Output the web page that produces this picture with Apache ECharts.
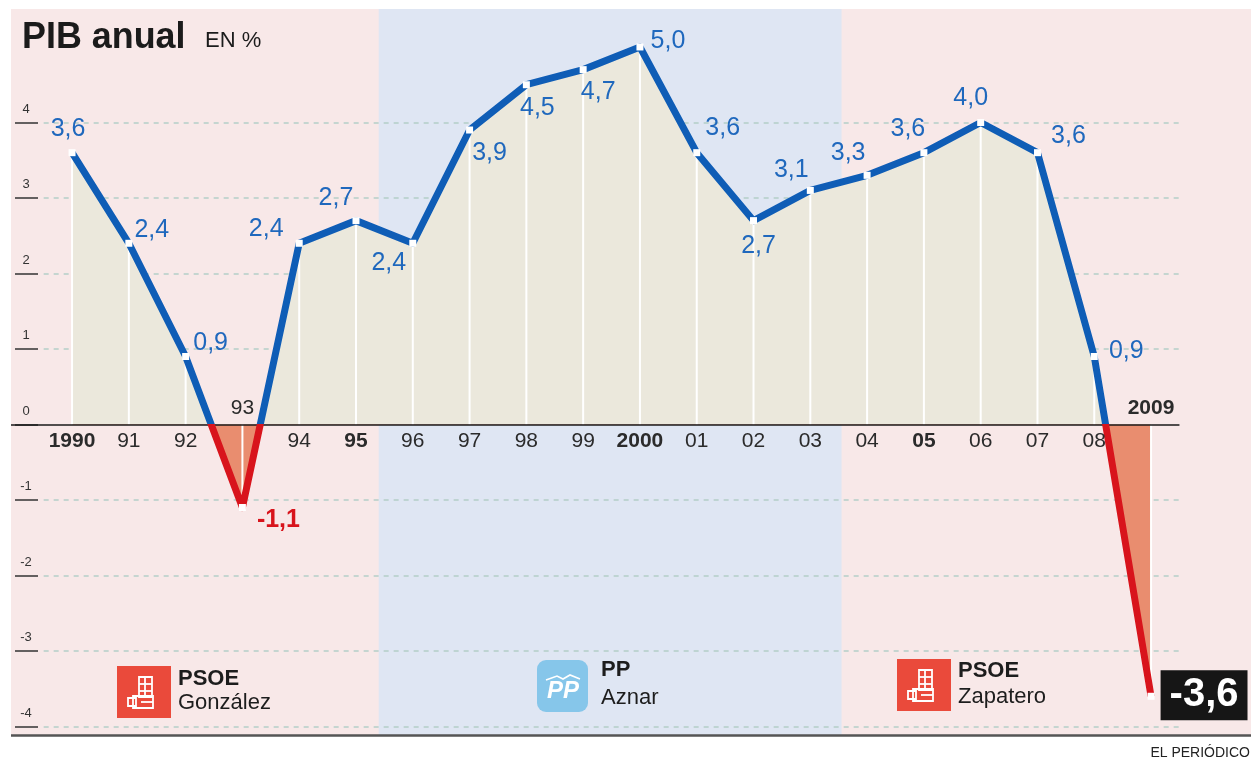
<!DOCTYPE html>
<html>
<head>
<meta charset="utf-8">
<title>PIB anual</title>
<script src="https://cdn.jsdelivr.net/npm/echarts@6/dist/echarts.min.js"></script>
<style>
  html, body { margin: 0; padding: 0; background: #fff; }
  #pib-chart { width: 1253px; height: 762px; }
</style>
</head>
<body>
<div id="pib-chart"></div>
<script>
// --- datos ---
const years = [1990, 1991, 1992, 1993, 1994, 1995, 1996, 1997, 1998, 1999,
               2000, 2001, 2002, 2003, 2004, 2005, 2006, 2007, 2008, 2009];
const yearLabels = ['1990', '91', '92', '93', '94', '95', '96', '97', '98', '99',
                    '2000', '01', '02', '03', '04', '05', '06', '07', '08', '2009'];
const pib = [3.6, 2.4, 0.9, -1.1, 2.4, 2.7, 2.4, 3.9, 4.5, 4.7,
             5.0, 3.6, 2.7, 3.1, 3.3, 3.6, 4.0, 3.6, 0.9, -3.6];
const boldYears = [1990, 1995, 2000, 2005, 2009];
const aboveAxisYears = [1993, 2009];   // rótulos que van encima del eje
const yTicks = [-4, -3, -2, -1, 0, 1, 2, 3, 4];
const ppTerm = [1995.4, 2003.55];      // legislaturas de Aznar (franja azul)

// desplazamiento de cada etiqueta respecto a su punto (solo estilo)
const labelOffset = [[-4, -24], [23, -13], [25, -13], [36, 13], [-33, -14], [-20, -23],
                     [-24, 20], [20, 23], [11, 23], [15, 22], [28, -6], [26, -25],
                     [5, 25], [-19, -20], [-19, -22], [-16, -24], [-10, -24], [31, -17],
                     [32, -5], [53, -1]];

const FONT = '"Liberation Sans", Arial, sans-serif';
const BLUE = '#0f5db6', RED = '#d8141c', LABEL_BLUE = '#1f68bd';
const X_MIN = 1988.925, X_MAX = 2010.76, Y_MIN = -4.113, Y_MAX = 5.503;

const pts = years.map((y, i) => [y, pib[i]]);
const fmt = v => v.toFixed(1).replace('.', ',');

// etiquetas de valor
const pointData = pts.map((p, i) => {
  const last = i === pts.length - 1;
  let label = { offset: labelOffset[i] };
  if (last) {
    label = Object.assign(label, {
      color: '#fff', backgroundColor: '#161616', fontSize: 40, fontWeight: 'bold',
      padding: [5, 9, 3, 9], lineHeight: 42
    });
  } else if (p[1] < 0) {
    label = Object.assign(label, { color: RED, fontWeight: 'bold' });
  }
  return { value: p, label: label };
});

// rótulos de los años sobre el eje 0
const yearData = years.map((y, i) => ({
  value: [y, 0],
  label: {
    position: aboveAxisYears.indexOf(y) >= 0 ? 'top' : 'bottom',
    fontWeight: boldYears.indexOf(y) >= 0 ? 'bold' : 'normal'
  }
}));

const gridLines = yTicks.filter(t => t !== 0).map(t => [{ coord: [1989.5, t] }, { coord: [2009.5, t] }]);
const bottomLine = [{ coord: [X_MIN, Y_MIN], lineStyle: { type: 'solid', color: '#555', width: 2.5 } },
                    { coord: [X_MAX, Y_MIN] }];

const chart = echarts.init(document.getElementById('pib-chart'));
chart.setOption({
  animation: false,
  textStyle: { fontFamily: FONT },
  grid: {
    show: true, backgroundColor: '#f8e8e8', borderWidth: 0,
    left: 11, right: 2, top: 9, bottom: 27
  },
  xAxis: {
    type: 'value', min: X_MIN, max: X_MAX,
    splitLine: { show: false },
    axisTick: { show: false },
    axisLine: { show: false },
    axisLabel: { show: false }
  },
  yAxis: {
    type: 'value', min: Y_MIN, max: Y_MAX, offset: -4,
    splitLine: { show: false },
    axisLine: { show: false },
    axisTick: {
      show: true, inside: true, length: 23, customValues: yTicks,
      lineStyle: { color: '#333', width: 1.5 }
    },
    axisLabel: {
      inside: true, customValues: yTicks, align: 'center', margin: 11,
      verticalAlign: 'bottom', padding: [0, 0, 7, 0],
      fontSize: 13, color: '#333', formatter: v => String(v)
    }
  },
  visualMap: [
    { show: false, type: 'piecewise', seriesIndex: 1, dimension: 1,
      pieces: [{ gte: -10, lt: 0, color: '#e98d6f' }, { gte: 0, lte: 10, color: '#ebe8dc' }] },
    { show: false, type: 'piecewise', seriesIndex: 3, dimension: 1,
      pieces: [{ gte: -10, lt: 0, color: RED }, { gte: 0, lte: 10, color: BLUE }] }
  ],
  series: [
    { // fondo: franja PP, rejilla y línea inferior
      type: 'line', data: pts, symbol: 'none', silent: true, clip: false, z: 1,
      lineStyle: { width: 0, opacity: 0 },
      markArea: {
        silent: true, z: 1,
        itemStyle: { color: '#dfe6f3' },
        data: [[{ xAxis: ppTerm[0] }, { xAxis: ppTerm[1] }]]
      },
      markLine: {
        silent: true, z: 1.5, symbol: ['none', 'none'], label: { show: false },
        lineStyle: { type: [5, 5], color: '#b4cec7', width: 1.5 },
        data: gridLines.concat([bottomLine])
      }
    },
    { // área
      type: 'line', data: pts, symbol: 'none', silent: true, z: 2,
      lineStyle: { width: 0 },
      areaStyle: { opacity: 1 }
    },
    { // líneas verticales blancas
      type: 'bar', data: pts, barWidth: 2, silent: true, z: 3,
      itemStyle: { color: '#fff' },
      markLine: {
        silent: true, z: 3.5, symbol: ['none', 'none'], label: { show: false },
        lineStyle: { type: 'solid', color: '#1a1a1a', width: 1.6 },
        data: [[{ coord: [X_MIN, 0] }, { coord: [2009.5, 0] }]]
      }
    },
    { // línea del PIB
      type: 'line', data: pts, symbol: 'none', silent: true, z: 4,
      lineStyle: { width: 7, cap: 'butt', join: 'round' }
    },
    { // puntos y valores
      type: 'scatter', data: pointData, symbol: 'rect', symbolSize: 7, silent: true, z: 5,
      itemStyle: { color: '#fff', opacity: 1 },
      label: {
        show: true, position: 'inside', formatter: p => fmt(p.value[1]),
        fontSize: 25, color: LABEL_BLUE, fontFamily: FONT
      }
    },
    { // años
      type: 'scatter', symbolSize: 0, silent: true, z: 5,
      data: yearData,
      itemStyle: { opacity: 1 },
      label: {
        show: true, distance: 6,
        formatter: p => yearLabels[years.indexOf(p.value[0])],
        fontSize: 21, color: '#2b2b2b', fontFamily: FONT
      }
    }
  ]
});

// título, partidos y firma
function roseIcon(x, y) {
  const w = { stroke: '#fff', fill: 'none', lineWidth: 1.8 };
  return {
    type: 'group', x: x, y: y,
    children: [
      { type: 'rect', z: 100, shape: { x: 0, y: 0, width: 54, height: 52 }, style: { fill: '#ea4a3b' } },
      { type: 'rect', z: 101, shape: { x: 22, y: 11, width: 13, height: 20 }, style: w },
      { type: 'line', z: 101, shape: { x1: 22, y1: 18, x2: 35, y2: 18 }, style: w },
      { type: 'line', z: 101, shape: { x1: 22, y1: 25, x2: 35, y2: 25 }, style: w },
      { type: 'line', z: 101, shape: { x1: 28, y1: 11, x2: 28, y2: 31 }, style: w },
      { type: 'rect', z: 101, shape: { x: 16, y: 30, width: 20, height: 12 }, style: w },
      { type: 'rect', z: 101, shape: { x: 11, y: 32, width: 8, height: 8 }, style: w },
      { type: 'line', z: 101, shape: { x1: 24, y1: 36, x2: 36, y2: 36 }, style: w }
    ]
  };
}
function partyText(x, y1, y2, party, leader) {
  return [
    { type: 'text', x: x, y: y1, z: 100,
      style: { text: party, font: 'bold 22px ' + FONT, fill: '#1d1d1d', verticalAlign: 'middle' } },
    { type: 'text', x: x, y: y2, z: 100,
      style: { text: leader, font: '22px ' + FONT, fill: '#1d1d1d', verticalAlign: 'middle' } }
  ];
}

chart.setOption({
  graphic: {
    elements: [
      { type: 'text', x: 22, y: 38, scaleX: 0.97, z: 100,
        style: { text: 'PIB anual', font: 'bold 37px ' + FONT, fill: '#1b1b1b', verticalAlign: 'middle' } },
      { type: 'text', x: 205, y: 41, z: 100,
        style: { text: 'EN %', font: '22px ' + FONT, fill: '#1b1b1b', verticalAlign: 'middle' } },
      roseIcon(117, 666),
      ...partyText(178, 679, 703, 'PSOE', 'González'),
      { type: 'group', x: 537, y: 660,
        children: [
          { type: 'rect', z: 100, shape: { x: 0, y: 0, width: 51, height: 52, r: 9 }, style: { fill: '#86c6ea' } },
          { type: 'polyline', z: 101, shape: { points: [[9, 20], [20, 16], [26, 19], [33, 15], [43, 19]] },
            style: { stroke: '#fff', fill: 'none', lineWidth: 1.6 } },
          { type: 'text', z: 101, x: 26, y: 31,
            style: { text: 'PP', font: 'italic bold 24px ' + FONT, fill: '#fff',
                     align: 'center', verticalAlign: 'middle' } }
        ] },
      ...partyText(601, 670, 698, 'PP', 'Aznar'),
      roseIcon(897, 659),
      ...partyText(958, 671, 697, 'PSOE', 'Zapatero'),
      { type: 'text', x: 1250, y: 753, z: 100,
        style: { text: 'EL PERIÓDICO', font: '14px ' + FONT, fill: '#222',
                 align: 'right', verticalAlign: 'middle' } }
    ]
  }
});
</script>
</body>
</html>
